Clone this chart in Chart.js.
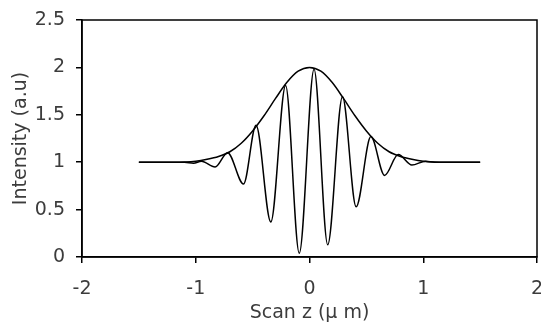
<!DOCTYPE html>
<html>
<head>
<meta charset="utf-8">
<script src="https://cdn.jsdelivr.net/npm/chart.js@4"></script>
<style>
  body { margin: 0; background: #fff; }
  canvas { display: block; }
</style>
</head>
<body>
<canvas id="grafico" width="541" height="322"></canvas>
<script>
// envolvente (curva gaussiana)
const envZ = [-1.5, -1.2, -1.0, -0.9, -0.8, -0.7, -0.6, -0.5, -0.4, -0.3, -0.2, -0.1, 0, 0.1, 0.2, 0.3, 0.4, 0.5, 0.6, 0.7, 0.8, 0.9, 1.0, 1.2, 1.5];
const envI = [1.0, 1.0, 1.01, 1.03, 1.06, 1.11, 1.2, 1.33, 1.49, 1.67, 1.84, 1.96, 2.0, 1.96, 1.84, 1.67, 1.49, 1.33, 1.2, 1.11, 1.06, 1.03, 1.01, 1.0, 1.0];

// franjas de interferencia
const franjaZ = [-1.5, -1.1, -1.02, -0.95, -0.83, -0.72, -0.58, -0.47, -0.34, -0.21, -0.09, 0.04, 0.16, 0.29, 0.41, 0.54, 0.66, 0.78, 0.90, 1.02, 1.1, 1.5];
const franjaI = [1.0, 1.0, 0.99, 1.01, 0.95, 1.1, 0.77, 1.39, 0.37, 1.81, 0.04, 1.98, 0.13, 1.69, 0.53, 1.27, 0.86, 1.08, 0.97, 1.01, 1.0, 1.0];

const ticksX = [-2, -1, 0, 1, 2];
const ticksY = [0, 0.5, 1, 1.5, 2, 2.5];

const puntos = (zs, is) => zs.map((z, i) => ({ x: z, y: is[i] }));

const fuente = { family: "'DejaVu Sans', Verdana, sans-serif", size: 19 };
const colorTexto = '#3c3c3c';

// marco alrededor del area de trazado
const marco = {
    id: 'marco',
    afterDraw(chart) {
        const { ctx, chartArea: a } = chart;
        ctx.save();
        ctx.strokeStyle = '#000';
        ctx.lineWidth = 1.5;
        ctx.strokeRect(a.left, a.top, a.right - a.left, a.bottom - a.top);
        ctx.restore();
    }
};

const ctx = document.getElementById('grafico').getContext('2d');
new Chart(ctx, {
    type: 'line',
    data: {
        datasets: [
            {
                data: puntos(envZ, envI),
                borderColor: '#000',
                borderWidth: 1.5,
                pointRadius: 0,
                cubicInterpolationMode: 'monotone'
            },
            {
                data: puntos(franjaZ, franjaI),
                borderColor: '#000',
                borderWidth: 1.5,
                pointRadius: 0,
                cubicInterpolationMode: 'monotone'
            }
        ]
    },
    options: {
        responsive: false,
        animation: false,
        layout: { padding: { top: 20, right: 4, left: 0, bottom: 0 } },
        plugins: { legend: { display: false }, tooltip: { enabled: false } },
        scales: {
            x: {
                type: 'linear',
                min: -2,
                max: 2,
                afterBuildTicks: (s) => { s.ticks = ticksX.map(v => ({ value: v })); },
                afterFit: (s) => { s.height = 65; s.paddingLeft = 0; s.paddingRight = 0; },
                grid: { drawOnChartArea: false, drawTicks: true, tickLength: 6, color: '#000', lineWidth: 1.5 },
                border: { display: true, color: '#000', width: 1.5 },
                ticks: { color: colorTexto, font: fuente, padding: 15, callback: (v) => String(v) },
                title: { display: true, text: 'Scan z (\u03bc m)', color: colorTexto, font: { ...fuente, lineHeight: 0.9 }, padding: 0 }
            },
            y: {
                min: 0,
                max: 2.5,
                afterBuildTicks: (s) => { s.ticks = ticksY.map(v => ({ value: v })); },
                afterFit: (s) => { s.width = 82; s.paddingTop = 0; s.paddingBottom = 0; },
                grid: { drawOnChartArea: false, drawTicks: true, tickLength: 6, color: '#000', lineWidth: 1.5 },
                border: { display: true, color: '#000', width: 1.5 },
                ticks: { color: colorTexto, font: fuente, padding: 11, callback: (v) => String(v) },
                title: { display: true, text: 'Intensity (a.u)', color: colorTexto, font: fuente, padding: { top: 10, bottom: 0 } }
            }
        }
    },
    plugins: [marco]
});
</script>
</body>
</html>
